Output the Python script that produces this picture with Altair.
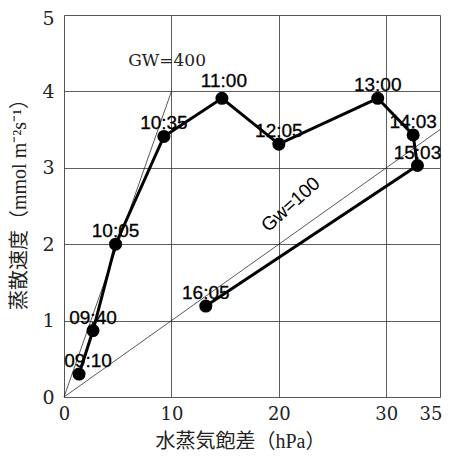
import altair as alt
import pandas as pd

# measured points (time of day, vapour pressure deficit hPa, transpiration rate)
times = ["09:10", "09:40", "10:05", "10:35", "11:00", "12:05", "13:00", "14:03", "15:03", "16:05"]
vpd = [1.4, 2.7, 4.8, 9.3, 14.7, 20.0, 29.2, 32.5, 32.9, 13.2]
trans = [0.30, 0.87, 2.00, 3.41, 3.91, 3.31, 3.91, 3.43, 3.03, 1.19]

# reference conductance lines
ref_names = ["GW=400", "GW=400", "Gw=100", "Gw=100"]
ref_x = [0, 10, 0, 35]
ref_y = [0, 4, 0, 3.5]

# annotation texts
ann_text = ["GW=400", "Gw=100"]
ann_x = [9.6, 21.1]
ann_y = [4.40, 2.52]

x_ticks = [0, 10, 20, 30, 35]
y_ticks = [0, 1, 2, 3, 4, 5]

SERIF = "DejaVu Serif, Liberation Serif, Noto Sans CJK JP"
TSERIF = "Liberation Serif, Noto Sans CJK JP"
SANS = "Liberation Sans, Arial, sans-serif"

pts = pd.DataFrame({"t": times, "x": vpd, "y": trans, "i": list(range(len(times)))})
refs = pd.DataFrame({"name": ref_names, "x": ref_x, "y": ref_y})

xs = alt.Scale(domain=[0, 35], nice=False, zero=False)
ys = alt.Scale(domain=[0, 5], nice=False, zero=False)

xax = alt.Axis(values=x_ticks, format="d", title="水蒸気飽差（hPa）", ticks=False, domain=False,
               labelFont=SERIF, labelFontSize=18, labelColor="#222", labelPadding=8,
               labelFlush=False, labelOverlap=False,
               labelAlign={"condition": {"test": "datum.value == 35", "value": "right"}, "value": "center"},
               labelOffset={"condition": {"test": "datum.value == 35", "value": 2}, "value": 0},
               titleFont=TSERIF, titleFontSize=20, titleFontWeight="normal", titleColor="#222",
               titleX=176, titleY=44, titleBaseline="middle", titleAlign="center",
               grid=True, gridColor="#333", gridWidth=0.8)
yax = alt.Axis(values=y_ticks, format="d", title="蒸散速度（mmol m⁻²s⁻¹）", ticks=False, domain=False,
               labelFont=SERIF, labelFontSize=19, labelColor="#222", labelPadding=10,
               labelFlush=False, labelOverlap=False,
               labelOffset={"condition": {"test": "datum.value == 5", "value": 3}, "value": 0},
               titleFont=TSERIF, titleFontSize=20, titleFontWeight="normal", titleColor="#222",
               titleX=-45, titleY=184, titleAngle=270, titleBaseline="middle", titleAlign="center",
               grid=True, gridColor="#333", gridWidth=0.8)

ref_lines = alt.Chart(refs).mark_line(color="#111", strokeWidth=0.7).encode(
    x=alt.X("x:Q", scale=xs, axis=xax),
    y=alt.Y("y:Q", scale=ys, axis=yax),
    detail="name:N",
)

main_line = alt.Chart(pts).mark_line(color="black", strokeWidth=3).encode(
    x=alt.X("x:Q", scale=xs), y=alt.Y("y:Q", scale=ys), order="i:Q"
)
dots = alt.Chart(pts).mark_circle(color="black", opacity=1, size=170).encode(
    x=alt.X("x:Q", scale=xs), y=alt.Y("y:Q", scale=ys)
)

lab_base = dict(font=SANS, fontSize=19, color="black", baseline="middle", align="center",
                stroke="black", strokeWidth=0.3)
labels = alt.Chart(pts).transform_filter(
    "datum.t != '09:10' && datum.t != '11:00'"
).mark_text(dy=-13, **lab_base).encode(
    x=alt.X("x:Q", scale=xs), y=alt.Y("y:Q", scale=ys), text="t:N"
)
lab_0910 = alt.Chart(pts).transform_filter("datum.t == '09:10'").mark_text(
    dx=9, dy=-13, **lab_base).encode(x=alt.X("x:Q", scale=xs), y=alt.Y("y:Q", scale=ys), text="t:N")
lab_1100 = alt.Chart(pts).transform_filter("datum.t == '11:00'").mark_text(
    dx=2, dy=-17, **lab_base).encode(x=alt.X("x:Q", scale=xs), y=alt.Y("y:Q", scale=ys), text="t:N")

ann = pd.DataFrame({"t": ann_text, "x": ann_x, "y": ann_y})
ann400 = alt.Chart(ann).transform_filter("datum.t == 'GW=400'").mark_text(
    font=SERIF, fontSize=17, color="#222", baseline="middle", align="center").encode(
    x=alt.X("x:Q", scale=xs), y=alt.Y("y:Q", scale=ys), text="t:N")
ann100 = alt.Chart(ann).transform_filter("datum.t == 'Gw=100'").mark_text(
    font=SANS, fontSize=19, color="black", baseline="middle", align="center", angle=318).encode(
    x=alt.X("x:Q", scale=xs), y=alt.Y("y:Q", scale=ys), text="t:N")

chart = alt.layer(ref_lines, main_line, dots, labels, lab_0910, lab_1100, ann400, ann100).properties(
    width=376, height=382,
    autosize=alt.AutoSizeParams(type="none"),
    padding={"left": 56, "top": 7, "right": 2, "bottom": 53},
).configure_view(stroke="black", strokeWidth=1.2).configure(background="white")

chart.save("out.html", embed_options={"renderer": "svg", "actions": False})
